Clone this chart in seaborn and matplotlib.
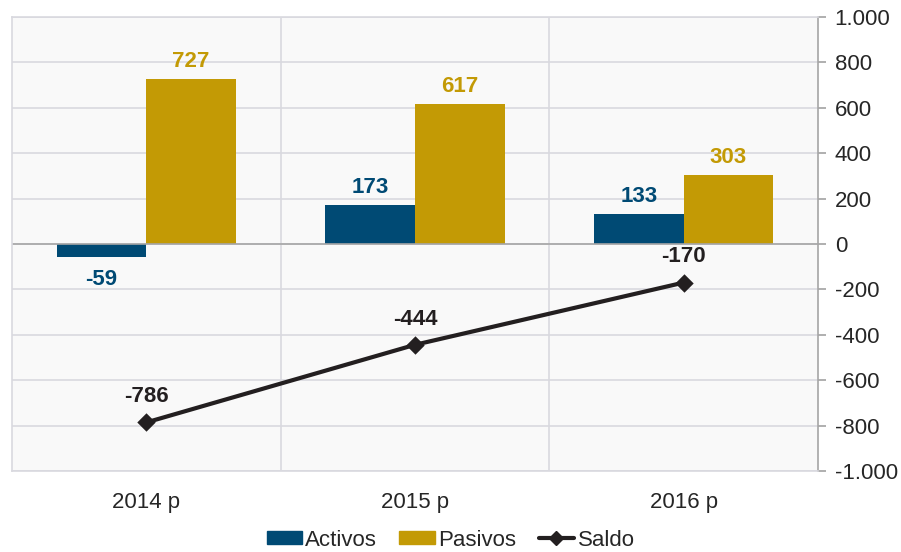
import matplotlib
matplotlib.use("Agg")
import matplotlib.pyplot as plt
import seaborn as sns
import pandas as pd
from matplotlib.ticker import FixedLocator, FuncFormatter
from matplotlib.patches import Patch
from matplotlib.lines import Line2D

years = ["2014 p", "2015 p", "2016 p"]
activos = [-59, 173, 133]
pasivos = [727, 617, 303]
saldo = [-786, -444, -170]

c_act = "#004a74"
c_pas = "#c39a05"
c_sal = "#231f20"

sns.set_theme(style="white")
plt.rcParams['font.family'] = ['Liberation Sans', 'DejaVu Sans']

df = pd.DataFrame({
    "year": years * 2,
    "value": activos + pasivos,
    "serie": ["Activos"] * 3 + ["Pasivos"] * 3,
})

fig = plt.figure(figsize=(9.01, 5.52), dpi=100)
ax = fig.add_axes([12/901, 81/552, (818-12)/901, (471-17)/552])
ax.set_facecolor("#f9f9f9")

sns.barplot(data=df, x="year", y="value", hue="serie", palette=[c_act, c_pas],
            width=0.667, gap=0, ax=ax, legend=False, saturation=1, errorbar=None,
            linewidth=0)
sns.pointplot(x=years, y=saldo, color=c_sal, markers="D", ax=ax,
              markersize=7, linewidth=3, errorbar=None)

fs = 16
ax.set_ylim(-1000, 1000)
ax.set_xlim(-0.5, 2.5)
ax.yaxis.tick_right()
ax.yaxis.set_major_locator(FixedLocator(range(-1000, 1001, 200)))
ax.yaxis.set_major_formatter(FuncFormatter(lambda v, p: f"{int(v):,}".replace(",", ".")))
ax.tick_params(axis="y", right=True, length=6, color="#a6a6a6", labelsize=fs,
               labelcolor="#262626", pad=6)
ax.tick_params(axis="x", bottom=False, labelsize=fs, labelcolor="#262626", pad=9)
ax.set_xlabel("")
ax.set_ylabel("")
ax.xaxis.set_minor_locator(FixedLocator([0.5, 1.5]))
ax.grid(True, axis="y", which="major", color="#d9d9df", linewidth=1.2)
ax.grid(True, axis="x", which="minor", color="#d9d9df", linewidth=1.2)
ax.tick_params(axis="x", which="minor", bottom=False)
ax.set_axisbelow(True)
for s in ["top", "bottom", "left"]:
    ax.spines[s].set_color("#d9d9df")
    ax.spines[s].set_linewidth(1.2)
ax.spines["right"].set_color("#a6a6a6")
ax.spines["right"].set_linewidth(1.2)
ax.axhline(0, color="#a6a6a6", linewidth=1.2, zorder=1.5)

# data labels
bars = ax.patches
for b, v in zip(bars[:3], activos):
    x = b.get_x() + b.get_width() / 2
    if v >= 0:
        ax.annotate(str(v), (x, v), xytext=(0, 5), textcoords="offset points",
                    ha="center", va="bottom", fontsize=fs, fontweight="bold", color=c_act)
    else:
        ax.annotate(str(v), (x, v), xytext=(0, -8), textcoords="offset points",
                    ha="center", va="top", fontsize=fs, fontweight="bold", color=c_act)
for b, v in zip(bars[3:6], pasivos):
    x = b.get_x() + b.get_width() / 2
    ax.annotate(str(v), (x, v), xytext=(0, 5), textcoords="offset points",
                ha="center", va="bottom", fontsize=fs, fontweight="bold", color=c_pas)
for i, v in enumerate(saldo):
    ax.annotate(str(v), (i, v), xytext=(0, 11), textcoords="offset points",
                ha="center", va="bottom", fontsize=fs, fontweight="bold", color=c_sal)

handles = [Patch(color=c_act, label="Activos"), Patch(color=c_pas, label="Pasivos"),
           Line2D([0], [0], color=c_sal, lw=3, marker="D", markersize=7, label="Saldo")]
fig.legend(handles=handles, loc="center", bbox_to_anchor=(0.5, 1 - 540/552), ncol=3,
           frameon=False, fontsize=fs, handlelength=1.6, handleheight=0.55,
           handletextpad=0.15, columnspacing=1.0, labelcolor="#262626")

fig.savefig("out.png", dpi=100)
